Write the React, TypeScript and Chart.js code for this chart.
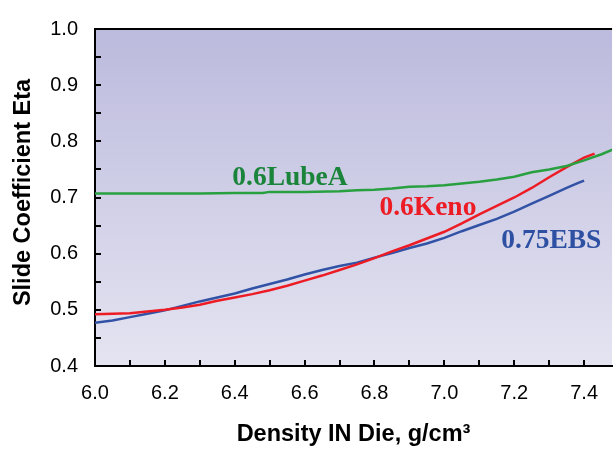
import React, { useEffect, useRef } from "react";
import { Chart, registerables } from "chart.js";

Chart.register(...registerables);

// ---- data ----
const lubeDensity = [6.0, 6.1, 6.2, 6.3, 6.4, 6.48, 6.5, 6.6, 6.7, 6.75, 6.8, 6.85, 6.9, 6.95, 7.0, 7.05, 7.1, 7.15, 7.2, 7.25, 7.3, 7.35, 7.4, 7.45, 7.5];
const lubeEta = [0.707, 0.707, 0.707, 0.707, 0.708, 0.708, 0.71, 0.71, 0.711, 0.713, 0.714, 0.716, 0.719, 0.72, 0.722, 0.725, 0.728, 0.732, 0.737, 0.745, 0.75, 0.756, 0.766, 0.777, 0.79];

const kenoDensity = [6.0, 6.05, 6.1, 6.15, 6.2, 6.25, 6.3, 6.35, 6.4, 6.45, 6.5, 6.55, 6.6, 6.65, 6.7, 6.75, 6.8, 6.85, 6.9, 6.95, 7.0, 7.05, 7.1, 7.15, 7.2, 7.25, 7.3, 7.35, 7.4, 7.43];
const kenoEta = [0.492, 0.493, 0.494, 0.497, 0.5, 0.504, 0.509, 0.516, 0.522, 0.528, 0.535, 0.543, 0.552, 0.561, 0.571, 0.581, 0.592, 0.604, 0.615, 0.627, 0.639, 0.654, 0.67, 0.685, 0.7, 0.717, 0.736, 0.754, 0.771, 0.778];

const ebsDensity = [6.0, 6.05, 6.1, 6.15, 6.2, 6.25, 6.3, 6.35, 6.4, 6.45, 6.5, 6.55, 6.6, 6.65, 6.7, 6.75, 6.8, 6.85, 6.9, 6.95, 7.0, 7.05, 7.1, 7.15, 7.2, 7.25, 7.3, 7.35, 7.38, 7.4];
const ebsEta = [0.477, 0.481, 0.487, 0.493, 0.499, 0.507, 0.515, 0.522, 0.529, 0.538, 0.546, 0.554, 0.563, 0.571, 0.578, 0.584, 0.593, 0.601, 0.61, 0.618, 0.628, 0.64, 0.651, 0.662, 0.675, 0.689, 0.703, 0.717, 0.725, 0.73];

const seriesNames = ["0.6LubeA", "0.6Keno", "0.75EBS"];
const labelAnchorX = [6.393, 6.814, 7.163];
const labelAnchorY = [0.7214, 0.6684, 0.6103];

const xTickValues = [6.0, 6.1, 6.2, 6.3, 6.4, 6.5, 6.6, 6.7, 6.8, 6.9, 7.0, 7.1, 7.2, 7.3, 7.4];
const xLabelValues = [6.0, 6.2, 6.4, 6.6, 6.8, 7.0, 7.2, 7.4];
const yTickValues = [0.4, 0.45, 0.5, 0.55, 0.6, 0.65, 0.7, 0.75, 0.8, 0.85, 0.9, 0.95, 1.0];
const yLabelValues = [0.4, 0.5, 0.6, 0.7, 0.8, 0.9, 1.0];

const xTitle = "Density IN Die, g/cm³";
const yTitle = "Slide Coefficient Eta";

// ---- styles ----
const lineColors = ["rgb(40,160,64)", "rgb(237,28,36)", "rgb(50,82,166)"];
const textColors = ["rgb(26,132,58)", "rgb(237,28,36)", "rgb(46,80,162)"];
const sansFamily = "'Liberation Sans', Arial, sans-serif";

const near = (a: number, list: number[]) => list.some((v) => Math.abs(v - a) < 1e-6);

export default function App() {
  const ref = useRef<HTMLCanvasElement | null>(null);

  useEffect(() => {
    document.body.style.margin = "0";
    const canvas = ref.current;
    if (!canvas) return;

    const bgPlugin = {
      id: "bgGradient",
      beforeDraw(chart: any) {
        const { ctx, chartArea } = chart;
        const g = ctx.createLinearGradient(0, chartArea.top, 0, chartArea.bottom);
        g.addColorStop(0, "rgb(188,186,221)");
        g.addColorStop(1, "rgb(228,228,241)");
        ctx.save();
        ctx.fillStyle = g;
        ctx.fillRect(chartArea.left, chartArea.top, chartArea.right - chartArea.left, chartArea.bottom - chartArea.top);
        ctx.restore();
      },
    };

    const decoPlugin = {
      id: "deco",
      afterDraw(chart: any) {
        const { ctx, chartArea, scales } = chart;
        const xs = scales.x;
        const ys = scales.y;
        ctx.save();
        ctx.strokeStyle = "#000";
        ctx.lineWidth = 2;
        // inside ticks
        xTickValues.forEach((v) => {
          const px = Math.round(xs.getPixelForValue(v));
          ctx.beginPath();
          ctx.moveTo(px, chartArea.bottom);
          ctx.lineTo(px, chartArea.bottom - 6);
          ctx.stroke();
        });
        yTickValues.forEach((v) => {
          const py = Math.round(ys.getPixelForValue(v));
          ctx.beginPath();
          ctx.moveTo(chartArea.left, py);
          ctx.lineTo(chartArea.left + 6, py);
          ctx.stroke();
        });
        // top border
        ctx.beginPath();
        ctx.moveTo(chartArea.left - 1, chartArea.top);
        ctx.lineTo(chartArea.right, chartArea.top);
        ctx.stroke();
        // y-axis title
        ctx.save();
        ctx.translate(24, (chartArea.top + chartArea.bottom) / 2 - 5);
        ctx.rotate(-Math.PI / 2);
        ctx.font = `bold 23.5px ${sansFamily}`;
        ctx.fillStyle = "#000";
        ctx.textAlign = "center";
        ctx.textBaseline = "middle";
        ctx.fillText(yTitle, 0, 0);
        ctx.restore();
        // series labels
        ctx.font = "bold 27.5px 'Liberation Serif', 'Times New Roman', serif";
        ctx.textAlign = "left";
        ctx.textBaseline = "alphabetic";
        seriesNames.forEach((name, i) => {
          ctx.fillStyle = textColors[i];
          ctx.fillText(name, xs.getPixelForValue(labelAnchorX[i]), ys.getPixelForValue(labelAnchorY[i]));
        });
        ctx.restore();
      },
    };

    const mk = (xsArr: number[], ysArr: number[]) => xsArr.map((x, i) => ({ x, y: ysArr[i] }));

    const chart = new Chart(canvas, {
      type: "line",
      data: {
        datasets: [
          { label: seriesNames[0], data: mk(lubeDensity, lubeEta), borderColor: lineColors[0], borderWidth: 2.5, pointRadius: 0, tension: 0 },
          { label: seriesNames[1], data: mk(kenoDensity, kenoEta), borderColor: lineColors[1], borderWidth: 2.5, pointRadius: 0, tension: 0 },
          { label: seriesNames[2], data: mk(ebsDensity, ebsEta), borderColor: lineColors[2], borderWidth: 2.5, pointRadius: 0, tension: 0 },
        ],
      },
      options: {
        animation: false,
        responsive: false,
        layout: { padding: { top: 15, right: 0, left: 0, bottom: 0 } },
        plugins: { legend: { display: false }, tooltip: { enabled: false } },
        scales: {
          x: {
            type: "linear",
            min: 6.0,
            max: 7.48,
            afterBuildTicks: (s: any) => {
              s.ticks = xTickValues.map((v) => ({ value: v }));
            },
            afterFit: (s: any) => {
              s.height = 83;
            },
            grid: { display: false, drawTicks: false },
            border: { display: true, color: "#000", width: 2 },
            ticks: {
              padding: 15,
              color: "#000",
              maxRotation: 0,
              autoSkip: false,
              font: { family: sansFamily, size: 20 },
              callback: (v: any) => (near(Number(v), xLabelValues) ? Number(v).toFixed(1) : ""),
            },
            title: {
              display: true,
              text: xTitle,
              color: "#000",
              font: { family: sansFamily, size: 23.5, weight: "bold" },
              padding: { top: 0, bottom: 0 },
            },
          },
          y: {
            type: "linear",
            min: 0.4,
            max: 1.0,
            afterBuildTicks: (s: any) => {
              s.ticks = yTickValues.map((v) => ({ value: v }));
            },
            afterFit: (s: any) => {
              s.width = 95;
            },
            grid: { display: false, drawTicks: false },
            border: { display: true, color: "#000", width: 2 },
            ticks: {
              padding: 17,
              color: "#000",
              autoSkip: false,
              font: { family: sansFamily, size: 20 },
              callback: (v: any) => (near(Number(v), yLabelValues) ? Number(v).toFixed(1) : ""),
            },
            title: { display: false, text: yTitle },
          },
        },
      },
      plugins: [bgPlugin, decoPlugin],
    });

    return () => chart.destroy();
  }, []);

  return (
    <div style={{ width: 613, height: 449 }}>
      <canvas ref={ref} width={613} height={449} />
    </div>
  );
}
